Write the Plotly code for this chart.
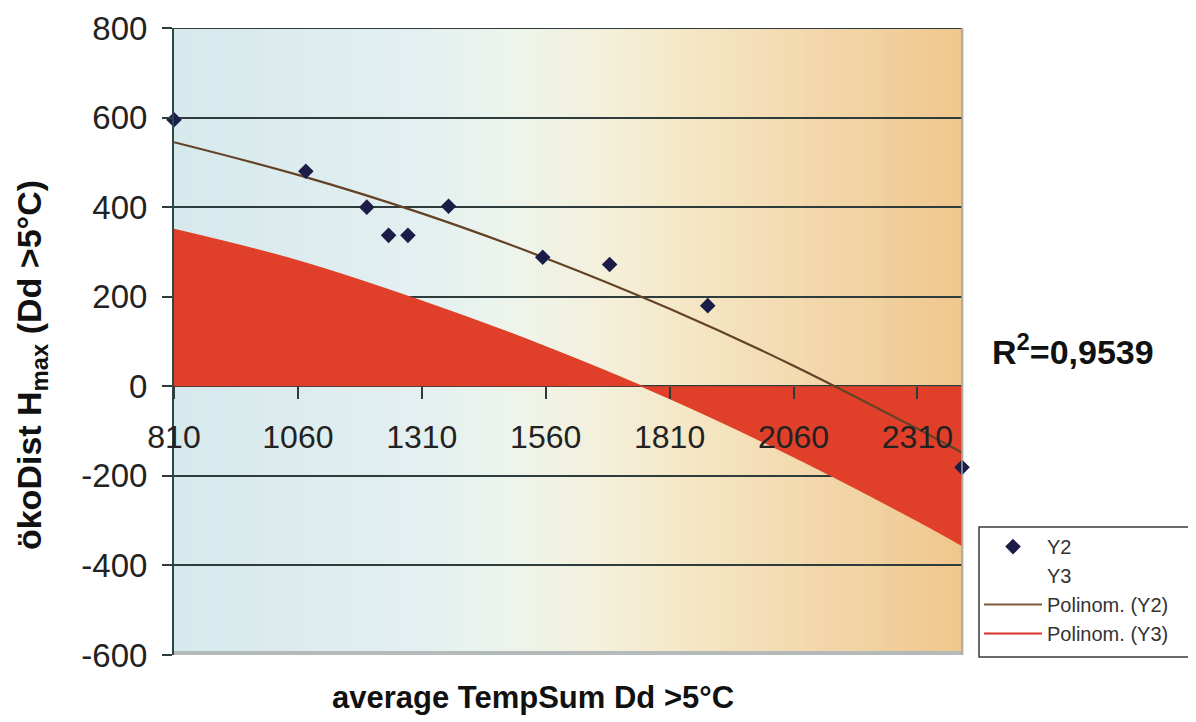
import plotly.graph_objects as go

# ---- data ----
x_y2 = [810, 1076, 1199, 1243, 1282, 1364, 1554, 1689, 1887, 2400]
y_y2 = [595, 480, 400, 337, 337, 402, 288, 272, 180, -181]

trend_x = [810, 1060, 1310, 1560, 1810, 2060, 2310, 2400]
trend_y2 = [545, 472, 386, 286, 173, 46, -95, -148]
trend_y3 = [350, 280, 190, 88, -27, -157, -300, -355]

x_ticks = [810, 1060, 1310, 1560, 1810, 2060, 2310]
y_ticks = [-600, -400, -200, 0, 200, 400, 600, 800]

X_MIN, X_MAX = 810, 2400
Y_MIN, Y_MAX = -600, 800

FONT = "Liberation Sans, Arial, sans-serif"
GRID = "#2e3c3c"

fig = go.Figure()

# red area of the Y3 trend (fill to zero)
fig.add_trace(go.Scatter(
    x=trend_x, y=trend_y3, mode="lines", line=dict(color="#e0402a", width=1.5, shape="spline"),
    fill="tozeroy", fillcolor="#e0402a", showlegend=False, hoverinfo="skip"))

# brown Y2 trend
fig.add_trace(go.Scatter(
    x=trend_x, y=trend_y2, mode="lines", line=dict(color="#634225", width=2.2, shape="spline"),
    showlegend=False, hoverinfo="skip"))

# Y2 markers
fig.add_trace(go.Scatter(
    x=x_y2, y=y_y2, mode="markers", name="Y2", cliponaxis=False,
    marker=dict(symbol="diamond", size=12, color="#1c1c48")))

# legend-only entries
fig.add_trace(go.Scatter(x=[None], y=[None], mode="markers", name="Y3",
                         marker=dict(size=1, color="rgba(0,0,0,0)")))
fig.add_trace(go.Scatter(x=[None], y=[None], mode="lines", name="Polinom. (Y2)",
                         line=dict(color="#7a5a35", width=2)))
fig.add_trace(go.Scatter(x=[None], y=[None], mode="lines", name="Polinom. (Y3)",
                         line=dict(color="#d8322a", width=2)))

# horizontal gradient background
stops = [(0.0, (0xd6, 0xe9, 0xec)), (0.3, (0xe3, 0xef, 0xf0)), (0.43, (0xed, 0xf4, 0xec)),
         (0.55, (0xf4, 0xf0, 0xda)), (0.65, (0xf5, 0xe7, 0xc6)), (0.8, (0xf3, 0xd9, 0xae)),
         (1.0, (0xef, 0xc7, 0x8d))]

def col_at(f):
    for (f0, c0), (f1, c1) in zip(stops[:-1], stops[1:]):
        if f0 <= f <= f1:
            t = (f - f0) / (f1 - f0)
            return "rgb(%d,%d,%d)" % tuple(round(a + (b - a) * t) for a, b in zip(c0, c1))
    return "rgb(%d,%d,%d)" % stops[-1][1]

N = 80
shapes = []
for i in range(N):
    shapes.append(dict(type="rect", xref="x domain", yref="y domain", x0=i / N, x1=(i + 1) / N + 0.002,
                       y0=0, y1=1, fillcolor=col_at((i + 0.5) / N), line=dict(width=0), layer="below"))
# top line, bottom grey shadow, right border
shapes.append(dict(type="line", xref="x domain", yref="y", x0=0, x1=1, y0=Y_MAX, y1=Y_MAX,
                   line=dict(color=GRID, width=2), layer="above"))
shapes.append(dict(type="line", xref="x domain", yref="y domain", x0=0, x1=1, y0=0.003, y1=0.003,
                   line=dict(color="#b4b9b9", width=4), layer="above"))
shapes.append(dict(type="line", xref="x domain", yref="y domain", x0=1, x1=1, y0=0, y1=1,
                   line=dict(color="#a0a6a6", width=1.5), layer="above"))
# legend frame (runs past the right edge as in the reference)
shapes.append(dict(type="rect", xref="paper", yref="paper", x0=1.0216, x1=1.31, y0=-0.003, y1=0.204,
                   fillcolor="white", line=dict(color="#3a3a3a", width=1.5), layer="above"))

fig.update_layout(
    width=1196, height=722,
    margin=dict(l=166, r=242, t=20, b=75, autoexpand=False),
    paper_bgcolor="white", plot_bgcolor="white",
    font=dict(family=FONT, color="#222222"),
    shapes=shapes,
    showlegend=True,
    legend=dict(x=1.0216, y=0.204, xanchor="left", yanchor="top",
                bgcolor="rgba(0,0,0,0)", borderwidth=0,
                font=dict(size=20, family=FONT, color="#333333"),
                tracegroupgap=0, itemwidth=58),
    annotations=[
        dict(text="R<sup>2</sup>=0,9539", x=1.036, y=0.487, xref="paper", yref="paper",
             xanchor="left", yanchor="middle", showarrow=False,
             font=dict(size=34, family=FONT, color="#111111", weight="bold")),
        dict(text="ökoDist H<sub>max</sub> (Dd >5°C)", x=-0.181, y=0.463, xref="paper", yref="paper",
             xanchor="center", yanchor="middle", textangle=-90, showarrow=False,
             font=dict(size=34, family=FONT, color="#111111", weight="bold")),
        dict(text="average TempSum Dd >5°C", x=0.4556, y=-0.067, xref="paper", yref="paper",
             xanchor="center", yanchor="middle", showarrow=False,
             font=dict(size=31, family=FONT, color="#111111", weight="bold")),
    ],
)

fig.update_xaxes(
    range=[X_MIN, X_MAX], tickmode="array", tickvals=x_ticks, ticktext=[str(v) for v in x_ticks],
    showgrid=False, zeroline=False, showline=False,
    anchor="free", position=(0 - Y_MIN) / (Y_MAX - Y_MIN),
    ticks="outside", ticklen=12, tickwidth=2, tickcolor=GRID,
    ticklabelstandoff=10,
    tickfont=dict(size=32, family=FONT, color="#222222"),
)
fig.update_yaxes(
    range=[Y_MIN, Y_MAX], tickmode="array", tickvals=y_ticks, ticktext=[str(v) for v in y_ticks],
    showgrid=True, gridcolor=GRID, gridwidth=2, zeroline=False,
    showline=True, linecolor="#2a4848", linewidth=2,
    ticks="outside", ticklen=10, tickwidth=2, tickcolor=GRID,
    ticklabelstandoff=8,
    tickfont=dict(size=33, family=FONT, color="#222222"),
)

fig.write_html("out.html")
